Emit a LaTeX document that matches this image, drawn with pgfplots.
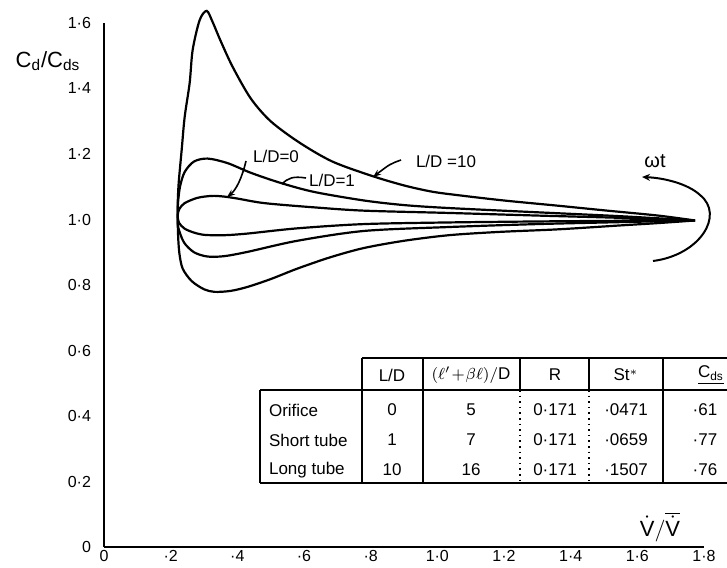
\documentclass[border=0pt]{standalone}
\usepackage{pgfplots}
\pgfplotsset{compat=1.18}
\usepackage{fontspec}
\setmainfont{Liberation Sans}
\usetikzlibrary{arrows.meta}
\begin{document}
\begin{tikzpicture}
\useasboundingbox (-52pt,-10pt) rectangle (311.5pt,273.5pt);
\begin{axis}[at={(0,0)},anchor=south west,scale only axis,
  width=300pt,height=262pt,
  xmin=0,xmax=1.8,ymin=0,ymax=1.6,
  axis lines=left, axis line style={line width=1.2pt,-},
  xtick={0,0.2,0.4,0.6,0.8,1.0,1.2,1.4,1.6,1.8},
  xticklabels={0,·2,·4,·6,·8,1·0,1·2,1·4,1·6,1·8},
  ytick={0,0.2,0.4,0.6,0.8,1.0,1.2,1.4,1.6},
  yticklabels={0,0·2,0·4,0·6,0·8,1·0,1·2,1·4,1·6},
  major tick length=0pt,
  tick label style={font=\fontsize{8}{9}\selectfont},
  xticklabel style={inner sep=1.5pt},
  yticklabel style={xshift=-3pt},
  clip=false]
% L/D = 10
\addplot[black,line width=1.1pt,smooth,tension=0.5] coordinates {
(1.773,0.997)(1.662,1.012)(1.50,1.028)(1.363,1.042)(1.20,1.058)(1.064,1.074)(0.984,1.085)(0.90,1.104)(0.804,1.133)(0.685,1.177)(0.586,1.235)(0.50,1.300)(0.44,1.370)(0.386,1.466)(0.35,1.545)(0.325,1.605)(0.308,1.637)(0.287,1.609)(0.266,1.518)(0.257,1.417)(0.242,1.313)(0.233,1.212)(0.224,1.111)(0.221,1.038)(0.222,0.959)(0.226,0.898)(0.236,0.850)(0.263,0.812)(0.30,0.787)(0.332,0.779)(0.38,0.782)(0.43,0.794)(0.50,0.818)(0.58,0.850)(0.68,0.885)(0.78,0.913)(0.90,0.935)(1.034,0.952)(1.184,0.962)(1.363,0.970)(1.55,0.982)(1.662,0.989)(1.773,0.997)};
% L/D = 1
\addplot[black,line width=1.1pt,smooth,tension=0.5] coordinates {
(1.773,0.997)(1.55,1.010)(1.30,1.022)(1.034,1.035)(0.90,1.044)(0.78,1.058)(0.631,1.084)(0.532,1.111)(0.442,1.142)(0.371,1.172)(0.311,1.186)(0.27,1.177)(0.242,1.145)(0.228,1.10)(0.222,1.05)(0.221,1.012)(0.223,0.975)(0.240,0.930)(0.27,0.900)(0.31,0.887)(0.36,0.888)(0.43,0.901)(0.58,0.935)(0.78,0.965)(1.034,0.977)(1.30,0.986)(1.55,0.992)(1.773,0.997)};
% L/D = 0
\addplot[black,line width=1.1pt,smooth,tension=0.5] coordinates {
(1.773,0.997)(1.55,1.005)(1.30,1.012)(1.034,1.020)(0.78,1.027)(0.631,1.037)(0.481,1.050)(0.40,1.064)(0.36,1.070)(0.323,1.072)(0.28,1.066)(0.242,1.050)(0.226,1.032)(0.221,1.012)(0.225,0.990)(0.242,0.972)(0.27,0.960)(0.302,0.953)(0.36,0.952)(0.43,0.957)(0.58,0.973)(0.78,0.986)(1.034,0.991)(1.30,0.994)(1.55,0.996)(1.773,0.997)};
\end{axis}
\begin{scope}[x=0.5pt,y=-0.5pt,shift={(-52pt,273.5pt)}]
% axis titles
\node[font=\fontsize{11}{12}\selectfont] at (48,61) {C\textsubscript{d}/C\textsubscript{ds}};
\node[font=\fontsize{11}{12}\selectfont] at (660,527) {$\dot{\mathrm{V}}/\overline{\dot{\mathrm{V}}}$};
% annotations
\node[font=\fontsize{8.5}{9}\selectfont] at (276,156) {L/D=0};
\draw[line width=0.8pt,-{Stealth[length=4pt,width=3pt]}] (246,161) .. controls (242,178) and (236,190) .. (227,197);
\node[font=\fontsize{8.5}{9}\selectfont] at (332,180) {L/D=1};
\draw[line width=0.8pt] (306,178) .. controls (293,176) and (288,178) .. (282,184);
\node[font=\fontsize{8.5}{9}\selectfont] at (446,161) {L/D =10};
\draw[line width=0.8pt,-{Stealth[length=4pt,width=3pt]}] (401,160) .. controls (390,164) .. (373,177);
\node[font=\fontsize{10}{11}\selectfont] at (655,161) {ωt};
\draw[line width=1pt,-{Stealth[length=4pt,width=3.5pt]}] (653,261) .. controls (700,255) and (725,215) .. (700,195) .. controls (688,184) and (665,178) .. (642,177);
% table
\begin{scope}[line width=0.8pt]
\draw (362,358) -- (740,358);
\draw (260,390) -- (740,390);
\draw (260,483) -- (740,483);
\draw (260,390) -- (260,483);
\draw (362,358) -- (362,483);
\draw (423,358) -- (423,483);
\draw (520,358) -- (520,390);
\draw (589,358) -- (589,390);
\draw (663,358) -- (663,483);
\draw[dotted] (520,390) -- (520,483);
\draw[dotted] (589,390) -- (589,483);
\end{scope}
\begin{scope}[font=\fontsize{8.5}{10}\selectfont]
\node at (392,375) {L/D};
\node at (471,375) {$(\ell'\!+\!\beta\ell)/\mathrm{D}$};
\node at (555,375) {R};
\node at (626,375) {St$^{*}$};
\node at (711,375) {\underline{C\textsubscript{ds}}};
\node[anchor=west] at (262,410) {Orifice};
\node[anchor=west] at (262,440) {Short tube};
\node[anchor=west] at (262,470) {Long tube};
\node at (392,410) {0}; \node at (392,440) {1}; \node at (392,470) {10};
\node at (471,410) {5}; \node at (471,440) {7}; \node at (471,470) {16};
\node at (555,410) {0·171}; \node at (555,440) {0·171}; \node at (555,470) {0·171};
\node at (626,410) {·0471}; \node at (626,440) {·0659}; \node at (626,470) {·1507};
\node at (705,410) {·61}; \node at (705,440) {·77}; \node at (705,470) {·76};
\end{scope}
\end{scope}
\end{tikzpicture}
\end{document}
